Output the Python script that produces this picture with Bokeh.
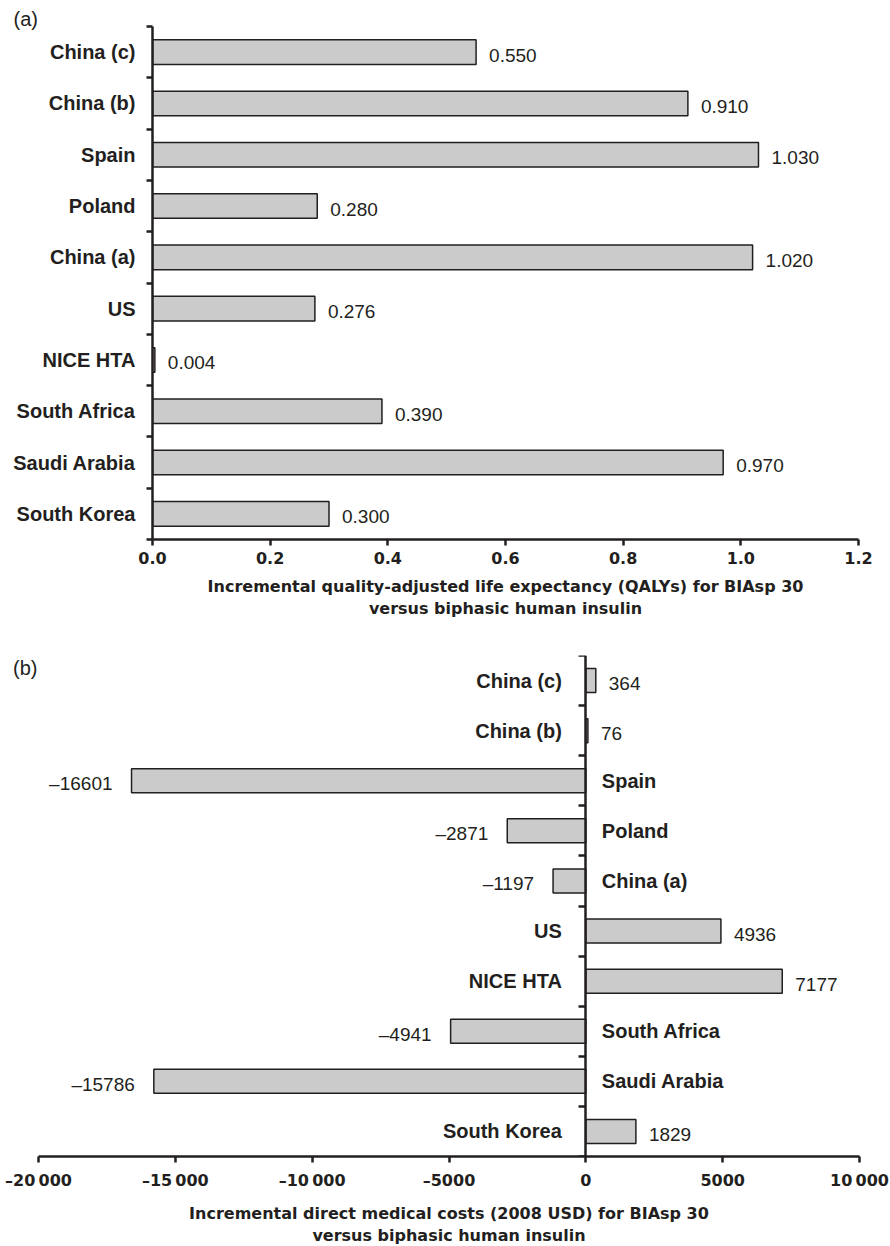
from bokeh.plotting import figure
from bokeh.models import ColumnDataSource, Range1d, LinearAxis, FixedTicker
from bokeh.embed import file_html
from bokeh.resources import INLINE
from bokeh.core.properties import value

# ---------------- data ----------------
categories = ["China (c)", "China (b)", "Spain", "Poland", "China (a)", "US",
              "NICE HTA", "South Africa", "Saudi Arabia", "South Korea"]
qaly_values = [0.550, 0.910, 1.030, 0.280, 1.020, 0.276, 0.004, 0.390, 0.970, 0.300]
cost_values = [364, 76, -16601, -2871, -1197, 4936, 7177, -4941, -15786, 1829]

qaly_ticks = [0.0, 0.2, 0.4, 0.6, 0.8, 1.0, 1.2]
qaly_tick_labels = ["0.0", "0.2", "0.4", "0.6", "0.8", "1.0", "1.2"]
cost_ticks = [-20000, -15000, -10000, -5000, 0, 5000, 10000]
cost_tick_labels = ["\u201320\u2009000", "\u201315\u2009000", "\u201310\u2009000",
                    "\u20135000", "0", "5000", "10\u2009000"]

qaly_title = ("Incremental quality-adjusted life expectancy (QALYs) for BIAsp 30\n"
              "versus biphasic human insulin")
cost_title = ("Incremental direct medical costs (2008 USD) for BIAsp 30\n"
              "versus biphasic human insulin")
panel_a_tag = "(a)"
panel_b_tag = "(b)"

# ---------------- styling ----------------
FONT = "Liberation Sans"
AXFONT = "DejaVu Sans"
TXT = "#231f20"
BAR_FILL = "#cbcbcb"
BAR_LINE = "#231f20"

n = len(categories)
ypos = [n - 0.5 - i for i in range(n)]
bounds = list(range(n + 1))
tag_b_y = n - 0.24   # vertical anchor of the "(b)" tag, just below the top of panel (b)


def style_common(p):
    p.xgrid.grid_line_color = None
    p.ygrid.grid_line_color = None
    p.outline_line_color = None
    p.background_fill_color = "white"
    p.border_fill_color = "white"


def style_xaxis(ax, ticks, labels, title, lab_standoff, title_standoff):
    ax.ticker = FixedTicker(ticks=ticks, minor_ticks=[])
    ax.major_label_overrides = dict(zip(ticks, labels))
    ax.axis_line_width = 2.5
    ax.axis_line_color = TXT
    ax.major_tick_out = 6
    ax.major_tick_in = 0
    ax.major_tick_line_width = 2.5
    ax.major_tick_line_color = TXT
    ax.minor_tick_line_color = None
    ax.major_label_text_font = AXFONT
    ax.major_label_text_font_style = "bold"
    ax.major_label_text_font_size = "16px"
    ax.major_label_text_color = TXT
    ax.major_label_standoff = lab_standoff
    ax.axis_label = title
    ax.axis_label_text_font = AXFONT
    ax.axis_label_text_font_style = "bold"
    ax.axis_label_text_font_size = "16px"
    ax.axis_label_text_color = TXT
    ax.axis_label_standoff = title_standoff


# ---------------- panel (a) ----------------
pa = figure(frame_width=706, frame_height=513,
            x_range=Range1d(0, 1.2), y_range=Range1d(0, n),
            output_backend="svg", toolbar_location=None,
            min_border_left=152, min_border_right=32,
            min_border_top=26, min_border_bottom=91)
style_common(pa)
pa.title.text = panel_a_tag
pa.title.align = "left"
pa.title.offset = -139
pa.title.standoff = -7
pa.title.text_font = FONT
pa.title.text_font_style = "normal"
pa.title.text_font_size = "20px"
pa.title.text_color = TXT

src_a = ColumnDataSource(dict(
    y=ypos, v=qaly_values, lab=[f"{v:.3f}" for v in qaly_values]))
pa.hbar(y="y", left=0, right="v", height=0.48, source=src_a,
        fill_color=BAR_FILL, line_color=BAR_LINE, line_width=1.5)
pa.text(x="v", y="y", text="lab", source=src_a, x_offset=13, y_offset=3,
        text_align="left", text_baseline="middle",
        text_font=value(FONT), text_font_size="19px", text_color=TXT)

ya = pa.yaxis[0]
ya.ticker = FixedTicker(ticks=ypos, minor_ticks=bounds)
ya.major_label_overrides = dict(zip(ypos, categories))
ya.major_tick_out = 0
ya.major_tick_in = 0
ya.minor_tick_out = 6
ya.minor_tick_in = 0
ya.minor_tick_line_width = 2.5
ya.minor_tick_line_color = TXT
ya.axis_line_width = 2.5
ya.axis_line_color = TXT
ya.major_label_text_font = FONT
ya.major_label_text_font_style = "bold"
ya.major_label_text_font_size = "20px"
ya.major_label_text_color = TXT
ya.major_label_standoff = 11

style_xaxis(pa.xaxis[0], qaly_ticks, qaly_tick_labels, qaly_title, 6, 10)

# ---------------- panel (b) ----------------
pb = figure(frame_width=821, frame_height=501,
            x_range=Range1d(-20000, 10000), y_range=Range1d(0, n),
            output_backend="svg", toolbar_location=None, y_axis_location=None,
            min_border_left=38, min_border_right=31,
            min_border_top=25, min_border_bottom=90)
style_common(pb)

pos = [i for i, v in enumerate(cost_values) if v >= 0]
neg = [i for i, v in enumerate(cost_values) if v < 0]


def fmt_cost(v):
    return ("\u2013" + str(abs(v))) if v < 0 else str(v)


src_b = ColumnDataSource(dict(y=ypos, v=cost_values))
src_pos = ColumnDataSource(dict(
    y=[ypos[i] for i in pos], v=[cost_values[i] for i in pos],
    cat=[categories[i] for i in pos], lab=[fmt_cost(cost_values[i]) for i in pos]))
src_neg = ColumnDataSource(dict(
    y=[ypos[i] for i in neg], v=[cost_values[i] for i in neg],
    cat=[categories[i] for i in neg], lab=[fmt_cost(cost_values[i]) for i in neg]))

pb.hbar(y="y", left=0, right="v", height=0.48, source=src_b,
        fill_color=BAR_FILL, line_color=BAR_LINE, line_width=1.5)

# values
pb.text(x="v", y="y", text="lab", source=src_pos, x_offset=13, y_offset=3,
        text_align="left", text_baseline="middle",
        text_font=value(FONT), text_font_size="19px", text_color=TXT)
pb.text(x="v", y="y", text="lab", source=src_neg, x_offset=-19, y_offset=3,
        text_align="right", text_baseline="middle",
        text_font=value(FONT), text_font_size="19px", text_color=TXT)
# category names on the opposite side of the zero axis
pb.text(x=0, y="y", text="cat", source=src_pos, x_offset=-24,
        text_align="right", text_baseline="middle", text_font_style="bold",
        text_font=value(FONT), text_font_size="20px", text_color=TXT)
pb.text(x=0, y="y", text="cat", source=src_neg, x_offset=16,
        text_align="left", text_baseline="middle", text_font_style="bold",
        text_font=value(FONT), text_font_size="20px", text_color=TXT)

# panel tag "(b)" as a lone label of an invisible left axis
tag_axis = LinearAxis(ticker=FixedTicker(ticks=[tag_b_y], minor_ticks=[]),
                      major_label_overrides={tag_b_y: panel_b_tag})
tag_axis.axis_line_color = None
tag_axis.major_tick_line_color = None
tag_axis.minor_tick_line_color = None
tag_axis.major_tick_out = 0
tag_axis.major_tick_in = 0
tag_axis.major_label_standoff = 1
tag_axis.major_label_text_font = FONT
tag_axis.major_label_text_font_style = "normal"
tag_axis.major_label_text_font_size = "20px"
tag_axis.major_label_text_color = TXT
pb.add_layout(tag_axis, "left")

yb = LinearAxis(fixed_location=0, ticker=FixedTicker(ticks=[], minor_ticks=bounds))
yb.major_tick_out = 0
yb.major_tick_in = 0
yb.minor_tick_out = 7
yb.minor_tick_in = 0
yb.minor_tick_line_width = 2.5
yb.minor_tick_line_color = TXT
yb.axis_line_width = 2.5
yb.axis_line_color = TXT
yb.major_label_text_font_size = "0px"
pb.add_layout(yb, "left")

style_xaxis(pb.xaxis[0], cost_ticks, cost_tick_labels, cost_title, 8, 11)

open("out.html", "w").write(file_html([pa, pb], INLINE))
